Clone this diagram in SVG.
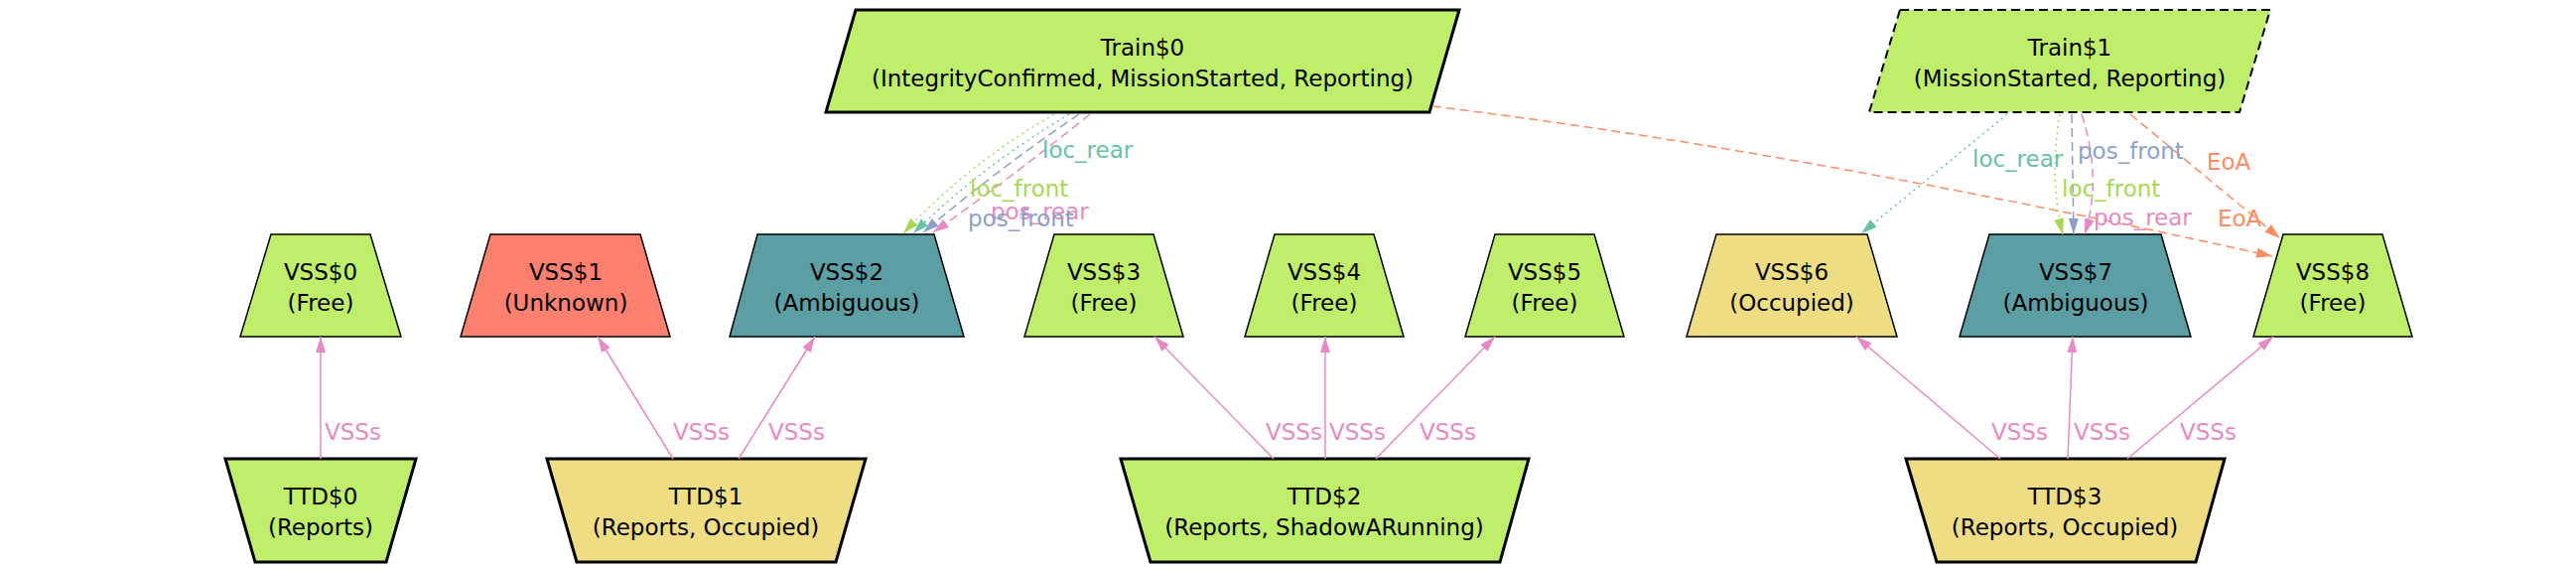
<svg xmlns="http://www.w3.org/2000/svg" width="2595" height="575" viewBox="0 0 2595 575">
<style>
text{font-family:"DejaVu Sans","Liberation Sans",sans-serif;font-size:23px;}
.n{text-anchor:middle;fill:#000;}
.thin{stroke:#000;stroke-width:1.5;}
.thick{stroke:#000;stroke-width:3;}
.green{fill:#bfee6a;}
.red{fill:#fb8070;}
.teal{fill:#5b9ea4;}
.yel{fill:#eedd82;}
.e{fill:none;stroke-width:1.5;}
.pk{stroke:#e78ac3;}
.tl{stroke:#66c2a5;}
.gr{stroke:#a6d854;}
.bl{stroke:#8da0cb;}
.or{stroke:#fc8d62;}
.dot{stroke-dasharray:2,4;}
.dash{stroke-dasharray:9,5;}
.lpk{fill:#e78ac3;}
.ltl{fill:#66c2a5;}
.lgr{fill:#a6d854;}
.lbl{fill:#8da0cb;}
.lor{fill:#fc8d62;}
</style>
<defs>
<marker id="apk" markerUnits="userSpaceOnUse" markerWidth="17" markerHeight="11" refX="16" refY="5" orient="auto"><path d="M0,0 L16,5 L0,10 z" fill="#e78ac3"/></marker>
<marker id="atl" markerUnits="userSpaceOnUse" markerWidth="17" markerHeight="11" refX="16" refY="5" orient="auto"><path d="M0,0 L16,5 L0,10 z" fill="#66c2a5"/></marker>
<marker id="agr" markerUnits="userSpaceOnUse" markerWidth="17" markerHeight="11" refX="16" refY="5" orient="auto"><path d="M0,0 L16,5 L0,10 z" fill="#a6d854"/></marker>
<marker id="abl" markerUnits="userSpaceOnUse" markerWidth="17" markerHeight="11" refX="16" refY="5" orient="auto"><path d="M0,0 L16,5 L0,10 z" fill="#8da0cb"/></marker>
<marker id="aor" markerUnits="userSpaceOnUse" markerWidth="17" markerHeight="11" refX="16" refY="5" orient="auto"><path d="M0,0 L16,5 L0,10 z" fill="#fc8d62"/></marker>
</defs>
<rect width="2595" height="575" fill="#fff"/>

<g id="Train0">
<polygon class="green thick" points="862,10 1470,10 1440,113 832,113"/>
<text class="n" x="1151" y="56">Train$0</text>
<text class="n" x="1151" y="87">(IntegrityConfirmed, MissionStarted, Reporting)</text>
</g>
<g id="Train1">
<polygon class="green" stroke="#000" stroke-width="2" stroke-dasharray="9,5" points="1914,10 2287,10 2256,113 1883,113"/>
<text class="n" x="2085" y="56">Train$1</text>
<text class="n" x="2085" y="87">(MissionStarted, Reporting)</text>
</g>

<g id="VSS0"><polygon class="green thin" points="273,236 373,236 404,339 242,339"/><text class="n" x="323" y="282">VSS$0</text><text class="n" x="323" y="313">(Free)</text></g>
<g id="VSS1"><polygon class="red thin" points="494,236 645,236 675,339 464,339"/><text class="n" x="570" y="282">VSS$1</text><text class="n" x="570" y="313">(Unknown)</text></g>
<g id="VSS2"><polygon class="teal thin" points="763,236 941,236 971,339 735,339"/><text class="n" x="853" y="282">VSS$2</text><text class="n" x="853" y="313">(Ambiguous)</text></g>
<g id="VSS3"><polygon class="green thin" points="1062,236 1162,236 1192,339 1032,339"/><text class="n" x="1112" y="282">VSS$3</text><text class="n" x="1112" y="313">(Free)</text></g>
<g id="VSS4"><polygon class="green thin" points="1284,236 1384,236 1414,339 1254,339"/><text class="n" x="1334" y="282">VSS$4</text><text class="n" x="1334" y="313">(Free)</text></g>
<g id="VSS5"><polygon class="green thin" points="1506,236 1606,236 1636,339 1476,339"/><text class="n" x="1556" y="282">VSS$5</text><text class="n" x="1556" y="313">(Free)</text></g>
<g id="VSS6"><polygon class="yel thin" points="1729,236 1881,236 1911,339 1699,339"/><text class="n" x="1805" y="282">VSS$6</text><text class="n" x="1805" y="313">(Occupied)</text></g>
<g id="VSS7"><polygon class="teal thin" points="2004,236 2177,236 2207,339 1974,339"/><text class="n" x="2091" y="282">VSS$7</text><text class="n" x="2091" y="313">(Ambiguous)</text></g>
<g id="VSS8"><polygon class="green thin" points="2300,236 2400,236 2430,339 2270,339"/><text class="n" x="2350" y="282">VSS$8</text><text class="n" x="2350" y="313">(Free)</text></g>

<g id="TTD0"><polygon class="green thick" points="227,462 419,462 389,566 257,566"/><text class="n" x="323" y="508">TTD$0</text><text class="n" x="323" y="539">(Reports)</text></g>
<g id="TTD1"><polygon class="yel thick" points="551,462 872,462 842,566 581,566"/><text class="n" x="711" y="508">TTD$1</text><text class="n" x="711" y="539">(Reports, Occupied)</text></g>
<g id="TTD2"><polygon class="green thick" points="1129,462 1540,462 1511,566 1159,566"/><text class="n" x="1334" y="508">TTD$2</text><text class="n" x="1334" y="539">(Reports, ShadowARunning)</text></g>
<g id="TTD3"><polygon class="yel thick" points="1920,462 2241,462 2212,566 1951,566"/><text class="n" x="2080" y="508">TTD$3</text><text class="n" x="2080" y="539">(Reports, Occupied)</text></g>

<g id="connectors">
<path class="e pk" marker-end="url(#apk)" d="M323,462 L323,339"/>
<path class="e pk" marker-end="url(#apk)" d="M678,462 L602,339"/>
<path class="e pk" marker-end="url(#apk)" d="M744,462 L821,339"/>
<path class="e pk" marker-end="url(#apk)" d="M1283,462 L1163,339"/>
<path class="e pk" marker-end="url(#apk)" d="M1335,462 L1335,339"/>
<path class="e pk" marker-end="url(#apk)" d="M1386,462 L1506,339"/>
<path class="e pk" marker-end="url(#apk)" d="M2015,462 L1870,339"/>
<path class="e pk" marker-end="url(#apk)" d="M2083,462 L2088,339"/>
<path class="e pk" marker-end="url(#apk)" d="M2143,462 L2290,339"/>
<text class="lpk" x="327" y="443">VSSs</text>
<text class="lpk" x="678" y="443">VSSs</text>
<text class="lpk" x="774" y="443">VSSs</text>
<text class="lpk" x="1275" y="443">VSSs</text>
<text class="lpk" x="1339" y="443">VSSs</text>
<text class="lpk" x="1430" y="443">VSSs</text>
<text class="lpk" x="2006" y="443">VSSs</text>
<text class="lpk" x="2089" y="443">VSSs</text>
<text class="lpk" x="2196" y="443">VSSs</text>

<path class="e gr dot" marker-end="url(#agr)" d="M1062,115 Q975,165 910,235"/>
<path class="e tl dot" marker-end="url(#atl)" d="M1077,115 Q988,168 920,235"/>
<path class="e bl dash" marker-end="url(#abl)" d="M1087,115 Q1003,172 930,234"/>
<path class="e pk dash" marker-end="url(#apk)" d="M1098,115 Q1020,178 940,234"/>
<text class="ltl" x="1050" y="159">loc_rear</text>
<text class="lgr" x="977" y="198">loc_front</text>
<text class="lpk" x="998" y="221">pos_rear</text>
<text class="lbl" x="975" y="228">pos_front</text>

<path class="e or dash" marker-end="url(#aor)" d="M1443,107 Q1800,150 2289,258"/>
<text class="lor" x="2234" y="228">EoA</text>

<path class="e tl dot" marker-end="url(#atl)" d="M2022,115 L1875,235"/>
<path class="e gr dot" marker-end="url(#agr)" d="M2075,115 Q2064,180 2078,236"/>
<path class="e bl dash" marker-end="url(#abl)" d="M2087,115 L2089,236"/>
<path class="e pk dash" marker-end="url(#apk)" d="M2097,115 Q2118,180 2100,236"/>
<path class="e or dash" marker-end="url(#aor)" d="M2146,115 L2297,240"/>
<text class="ltl" x="1987" y="168">loc_rear</text>
<text class="lbl" x="2093" y="160">pos_front</text>
<text class="lgr" x="2077" y="198">loc_front</text>
<text class="lpk" x="2109" y="227">pos_rear</text>
<text class="lor" x="2223" y="171">EoA</text>
</g>
</svg>
